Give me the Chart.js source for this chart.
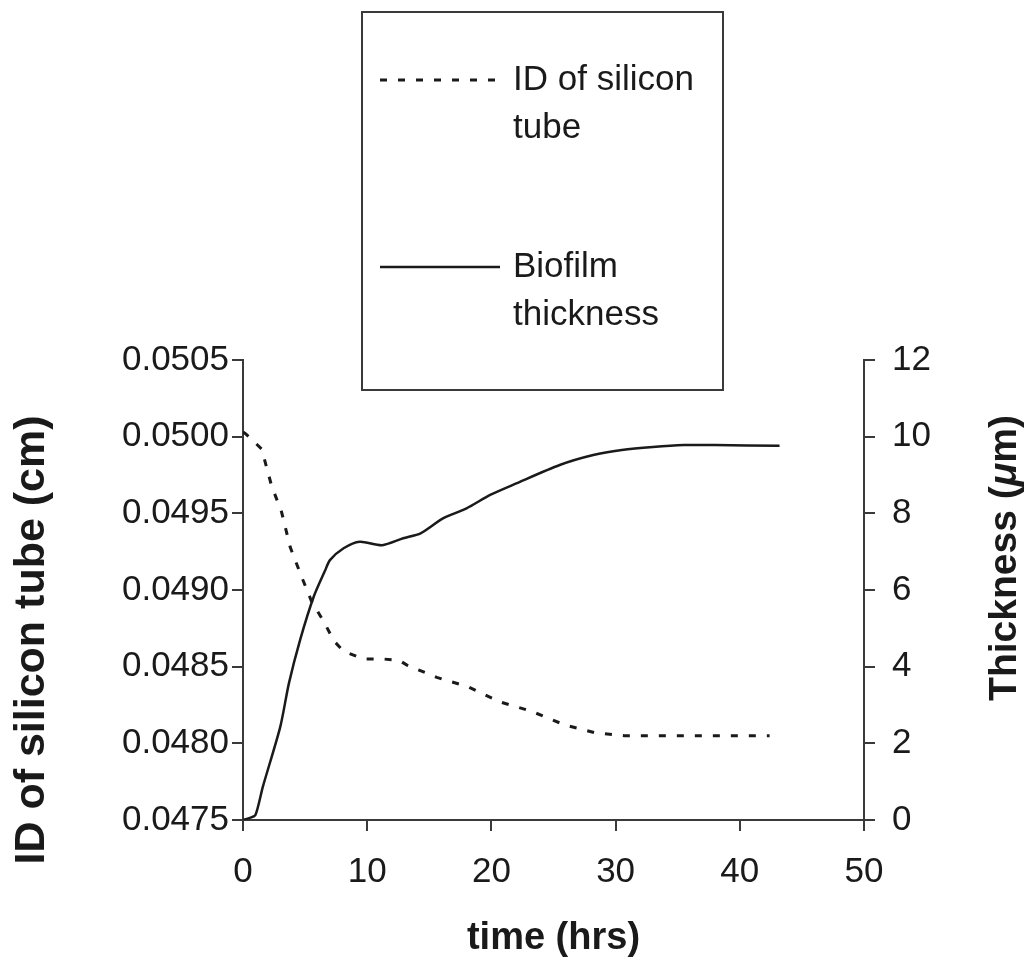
<!DOCTYPE html>
<html>
<head>
<meta charset="utf-8">
<script src="https://cdn.jsdelivr.net/npm/chart.js@4"></script>
<style>
  html, body { margin: 0; padding: 0; background: #fff; }
  canvas { display: block; }
</style>
</head>
<body>
<canvas id="chart" width="1034" height="965"></canvas>
<script>
/* ID of silicon tube vs biofilm thickness over time, two y axes. */
(function () {
  "use strict";

  // ID of silicon tube (cm), left axis
  var idTimes = [0, 0.2, 1.5, 2.3, 3.1, 3.8, 4.7, 5.5, 6.6, 7.3, 8.1, 9.7, 11.3, 12.6, 13.2,
                 15.6, 18.1, 20.7, 23.2, 24.7, 25.9, 28.3, 30.7, 35, 42.4];
  var idValues = [0.05003, 0.05002, 0.04992, 0.04968, 0.04951, 0.04928, 0.04909, 0.04893,
                  0.04878, 0.04867, 0.04860, 0.04855, 0.04855, 0.04854, 0.04851, 0.04843,
                  0.04837, 0.04827, 0.04821, 0.04816, 0.04812, 0.04807, 0.04805, 0.04805, 0.04805];

  // Biofilm thickness (um), right axis
  var thkTimes = [0, 0.5, 1.0, 1.6, 3.0, 3.7, 4.6, 5.7, 6.6, 7.0, 8.1, 9.4, 11.2, 12.9, 14.3,
                  16.1, 18.0, 19.9, 22.0, 25.5, 28.2, 30.5, 33, 35.5, 38, 43.2];
  var thkValues = [0, 0.05, 0.13, 0.87, 2.43, 3.57, 4.7, 5.83, 6.5, 6.78, 7.09, 7.26, 7.17,
                   7.35, 7.48, 7.87, 8.13, 8.48, 8.78, 9.26, 9.52, 9.65, 9.73, 9.78, 9.78, 9.76];

  var leftTicks = [0.0475, 0.0480, 0.0485, 0.0490, 0.0495, 0.0500, 0.0505];
  var rightTicks = [0, 2, 4, 6, 8, 10, 12];
  var timeTicks = [0, 10, 20, 30, 40, 50];

  var legendLines = [["ID of silicon", "tube"], ["Biofilm", "thickness"]];
  var leftTitle = "ID of silicon tube (cm)";
  var rightTitle = ["Thickness (", "μ", "m)"]; // middle piece in italics

  var FONT = "'Liberation Sans', Arial, sans-serif";
  var INK = "#1a1a1a";
  var AXIS = "#3a3a3a";

  function pts(xs, ys) {
    return xs.map(function (x, i) { return { x: x, y: ys[i] }; });
  }
  function fixTicks(list) {
    return function (scale) {
      scale.ticks = list.map(function (v) { return { value: v }; });
    };
  }
  var tickFont = { family: FONT, size: 35 };
  var grid = { drawOnChartArea: false, color: AXIS, lineWidth: 2, tickLength: 11 };
  var border = { color: AXIS, width: 2 };

  // box legend drawn above the plot, as in the source figure
  var boxLegend = {
    id: "boxLegend",
    afterDraw: function (chart) {
      var ctx = chart.ctx;
      var ds = chart.data.datasets;
      var bx = 362, by = 12, bw = 361, bh = 378;
      ctx.save();
      ctx.fillStyle = "#fff";
      ctx.fillRect(bx, by, bw, bh);
      ctx.strokeStyle = AXIS;
      ctx.lineWidth = 2;
      ctx.strokeRect(bx, by, bw, bh);
      var rows = [80, 267];
      ctx.font = "35px " + FONT;
      ctx.fillStyle = INK;
      ctx.textBaseline = "middle";
      rows.forEach(function (ry, i) {
        ctx.beginPath();
        ctx.setLineDash(ds[i].borderDash || []);
        ctx.strokeStyle = ds[i].borderColor;
        ctx.lineWidth = ds[i].borderWidth;
        ctx.moveTo(bx + 18, ry);
        ctx.lineTo(bx + 138, ry);
        ctx.stroke();
        ctx.setLineDash([]);
        legendLines[i].forEach(function (t, j) {
          ctx.fillText(t, bx + 151, ry + j * 48);
        });
      });
      ctx.restore();
    }
  };

  // both y titles read bottom-to-top in the source, and sit off-centre
  var yTitles = {
    id: "yTitles",
    afterDraw: function (chart) {
      var ctx = chart.ctx;
      var a = chart.chartArea;
      var mid = (a.top + a.bottom) / 2;
      ctx.save();
      ctx.fillStyle = INK;
      ctx.textBaseline = "middle";

      ctx.save();
      ctx.translate(32, mid + 50);
      ctx.rotate(-Math.PI / 2);
      ctx.font = "bold 43px " + FONT;
      ctx.textAlign = "center";
      ctx.fillText(leftTitle, 0, 0);
      ctx.restore();

      ctx.save();
      ctx.translate(chart.width - 29, mid - 32);
      ctx.rotate(-Math.PI / 2);
      var fonts = ["bold 39px " + FONT, "italic bold 39px " + FONT, "bold 39px " + FONT];
      var total = 0;
      rightTitle.forEach(function (t, i) { ctx.font = fonts[i]; total += ctx.measureText(t).width; });
      var x = -total / 2;
      ctx.textAlign = "left";
      rightTitle.forEach(function (t, i) {
        ctx.font = fonts[i];
        ctx.fillText(t, x, 0);
        x += ctx.measureText(t).width;
      });
      ctx.restore();

      ctx.restore();
    }
  };

  new Chart(document.getElementById("chart"), {
    type: "line",
    data: {
      datasets: [
        {
          label: "ID of silicon tube",
          data: pts(idTimes, idValues),
          yAxisID: "y",
          borderColor: INK,
          borderWidth: 3,
          borderDash: [7, 11],
          pointRadius: 0,
          tension: 0,
          fill: false
        },
        {
          label: "Biofilm thickness",
          data: pts(thkTimes, thkValues),
          yAxisID: "y1",
          borderColor: INK,
          borderWidth: 2.5,
          pointRadius: 0,
          tension: 0.25,
          fill: false
        }
      ]
    },
    options: {
      responsive: false,
      animation: false,
      layout: { padding: { top: 360, left: 0, right: 0, bottom: 0 } },
      plugins: { legend: { display: false }, tooltip: { enabled: false } },
      scales: {
        x: {
          type: "linear",
          min: 0,
          max: 50,
          afterBuildTicks: fixTicks(timeTicks),
          afterFit: function (s) { s.height = 145; },
          grid: grid,
          border: border,
          ticks: { font: tickFont, color: INK, padding: 20, maxRotation: 0 },
          title: {
            display: true, text: "time (hrs)", color: INK,
            font: { family: FONT, size: 38, weight: "bold" },
            padding: { top: 0, bottom: 4 }
          }
        },
        y: {
          type: "linear",
          position: "left",
          min: 0.0475,
          max: 0.0505,
          afterBuildTicks: fixTicks(leftTicks),
          afterFit: function (s) { s.width = 243; },
          grid: grid,
          border: border,
          ticks: {
            font: tickFont, color: INK, padding: 3,
            callback: function (v) { return Number(v).toFixed(4); }
          }
        },
        y1: {
          type: "linear",
          position: "right",
          min: 0,
          max: 12,
          afterBuildTicks: fixTicks(rightTicks),
          afterFit: function (s) { s.width = 170; },
          grid: grid,
          border: border,
          ticks: { font: tickFont, color: INK, padding: 17 }
        }
      }
    },
    plugins: [boxLegend, yTitles]
  });
})();
</script>
</body>
</html>
